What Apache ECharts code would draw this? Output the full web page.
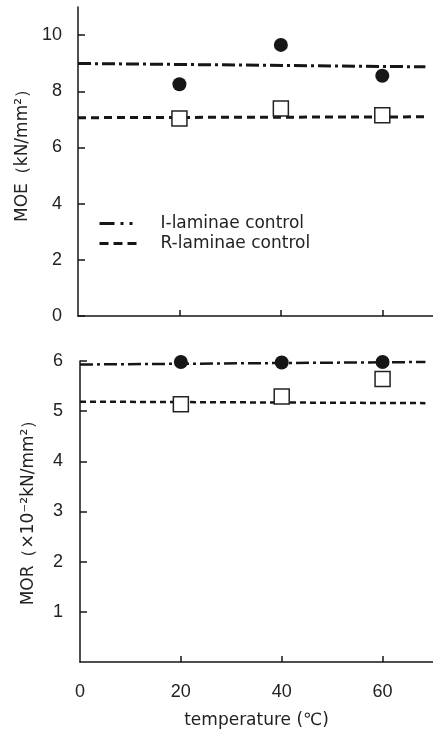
<!DOCTYPE html>
<html>
<head>
<meta charset="utf-8">
<script src="https://cdn.jsdelivr.net/npm/echarts@6/dist/echarts.min.js"></script>
<style>
  html, body { margin: 0; padding: 0; background: #fff; }
  #chart { width: 433px; height: 736px; }
</style>
</head>
<body>
<div id="chart"></div>
<script>
// temperatures of the test points
const temps = [20, 40, 60];
// MOE (kN/mm2)
const moeI = [8.25, 9.65, 8.55];
const moeR = [7.03, 7.39, 7.15];
// MOR (x10^-2 kN/mm2)
const morI = [5.98, 5.97, 5.98];
const morR = [5.14, 5.29, 5.64];
// control lines: start / end of the fitted level
const ctrlX = [0, 68.5];
const moeICtrl = [8.99, 8.87];
const moeRCtrl = [7.06, 7.09];
const morICtrl = [5.93, 5.98];
const morRCtrl = [5.19, 5.16];
// tick labels
const xTicks = [0, 20, 40, 60];
const moeTicks = [0, 2, 4, 6, 8, 10];
const morTicks = [1, 2, 3, 4, 5, 6];

const ink = '#161616';
const numFont = { fontFamily: 'Liberation Sans', fontSize: 18, color: '#222' };
const nameFont = { fontFamily: 'DejaVu Sans', fontSize: 17, color: '#222' };

const pairs = (xs, ys) => xs.map((x, i) => [x, ys[i]]);

const lineSeries = (name, idx, ys, dash, w) => ({
  name: name,
  type: 'line',
  xAxisIndex: idx,
  yAxisIndex: idx,
  data: pairs(ctrlX, ys),
  symbol: 'none',
  silent: true,
  itemStyle: { color: ink },
  lineStyle: { color: ink, width: w, type: dash, cap: 'butt' }
});

const dots = (idx, ys) => ({
  type: 'scatter',
  xAxisIndex: idx,
  yAxisIndex: idx,
  data: pairs(temps, ys),
  symbol: 'circle',
  symbolSize: 14,
  itemStyle: { color: ink, opacity: 1 },
  z: 5
});

const boxes = (idx, ys) => ({
  type: 'scatter',
  xAxisIndex: idx,
  yAxisIndex: idx,
  data: pairs(temps, ys),
  symbol: 'rect',
  symbolSize: 15,
  itemStyle: { color: '#fff', borderColor: '#222', borderWidth: 1.5, opacity: 1 },
  z: 4
});

const axisLine = { show: true, onZero: false, lineStyle: { color: ink, width: 1.5 } };

const getOption = () => ({
  animation: false,
  grid: [
    { left: 78, top: 7, height: 309, width: 355 },
    { left: 80, top: 361, height: 301, width: 359 }
  ],
  legend: {
    orient: 'vertical',
    left: 93,
    top: 210,
    itemWidth: 37,
    itemHeight: 14,
    itemGap: 3,
    selectedMode: false,
    textStyle: { fontFamily: 'DejaVu Sans', fontSize: 17, color: '#222', padding: [0, 0, 0, 19] },
    data: [
      { name: 'I-laminae control', itemStyle: { opacity: 0 }, lineStyle: { type: [15, 6, 3, 6, 3, 30], width: 3 } },
      { name: 'R-laminae control', itemStyle: { opacity: 0 }, lineStyle: { type: [9, 5], width: 3 } }
    ]
  },
  xAxis: [
    {
      gridIndex: 0, type: 'value', min: 0, max: 70,
      axisLine: axisLine,
      axisTick: { show: true, inside: true, length: 6, customValues: [20, 40, 60], lineStyle: { color: ink, width: 1.5 } },
      axisLabel: { show: false },
      splitLine: { show: false }
    },
    {
      gridIndex: 1, type: 'value', min: 0, max: 70,
      name: 'temperature (℃)',
      nameLocation: 'middle',
      nameGap: 50,
      nameTextStyle: nameFont,
      axisLine: axisLine,
      axisTick: { show: true, inside: true, length: 6, customValues: [20, 40, 60], lineStyle: { color: ink, width: 1.5 } },
      axisLabel: Object.assign({ margin: 21, customValues: xTicks }, numFont),
      splitLine: { show: false }
    }
  ],
  yAxis: [
    {
      gridIndex: 0, type: 'value', min: 0, max: 11,
      name: 'MOE（kN/mm²）',
      nameLocation: 'middle',
      nameGap: 41,
      nameTextStyle: Object.assign({ padding: [0, 0, 0, 20] }, nameFont),
      axisLine: axisLine,
      axisTick: { show: true, inside: true, length: 7, customValues: moeTicks, lineStyle: { color: ink, width: 1.5 } },
      axisLabel: Object.assign({ margin: 16, customValues: moeTicks }, numFont),
      splitLine: { show: false }
    },
    {
      gridIndex: 1, type: 'value', min: 0, max: 6,
      name: 'MOR（×10⁻²kN/mm²）',
      nameLocation: 'middle',
      nameGap: 43,
      nameTextStyle: Object.assign({ padding: [0, 0, 0, 6] }, nameFont),
      axisLine: axisLine,
      axisTick: { show: true, inside: true, length: 7, customValues: morTicks, lineStyle: { color: ink, width: 1.5 } },
      axisLabel: Object.assign({ margin: 17, customValues: morTicks }, numFont),
      splitLine: { show: false }
    }
  ],
  series: [
    lineSeries('I-laminae control', 0, moeICtrl, [13, 4, 3, 4], 3),
    lineSeries('R-laminae control', 0, moeRCtrl, [8, 5], 3),
    dots(0, moeI),
    boxes(0, moeR),
    lineSeries('I-laminae control', 1, morICtrl, [13, 4, 3, 4], 2.5),
    lineSeries('R-laminae control', 1, morRCtrl, [6, 4], 2.5),
    dots(1, morI),
    boxes(1, morR)
  ]
});

const initChart = () => {
  const chart = echarts.init(document.querySelector('#chart'));
  chart.setOption(getOption());
};

window.addEventListener('load', () => {
  initChart();
});
</script>
</body>
</html>
